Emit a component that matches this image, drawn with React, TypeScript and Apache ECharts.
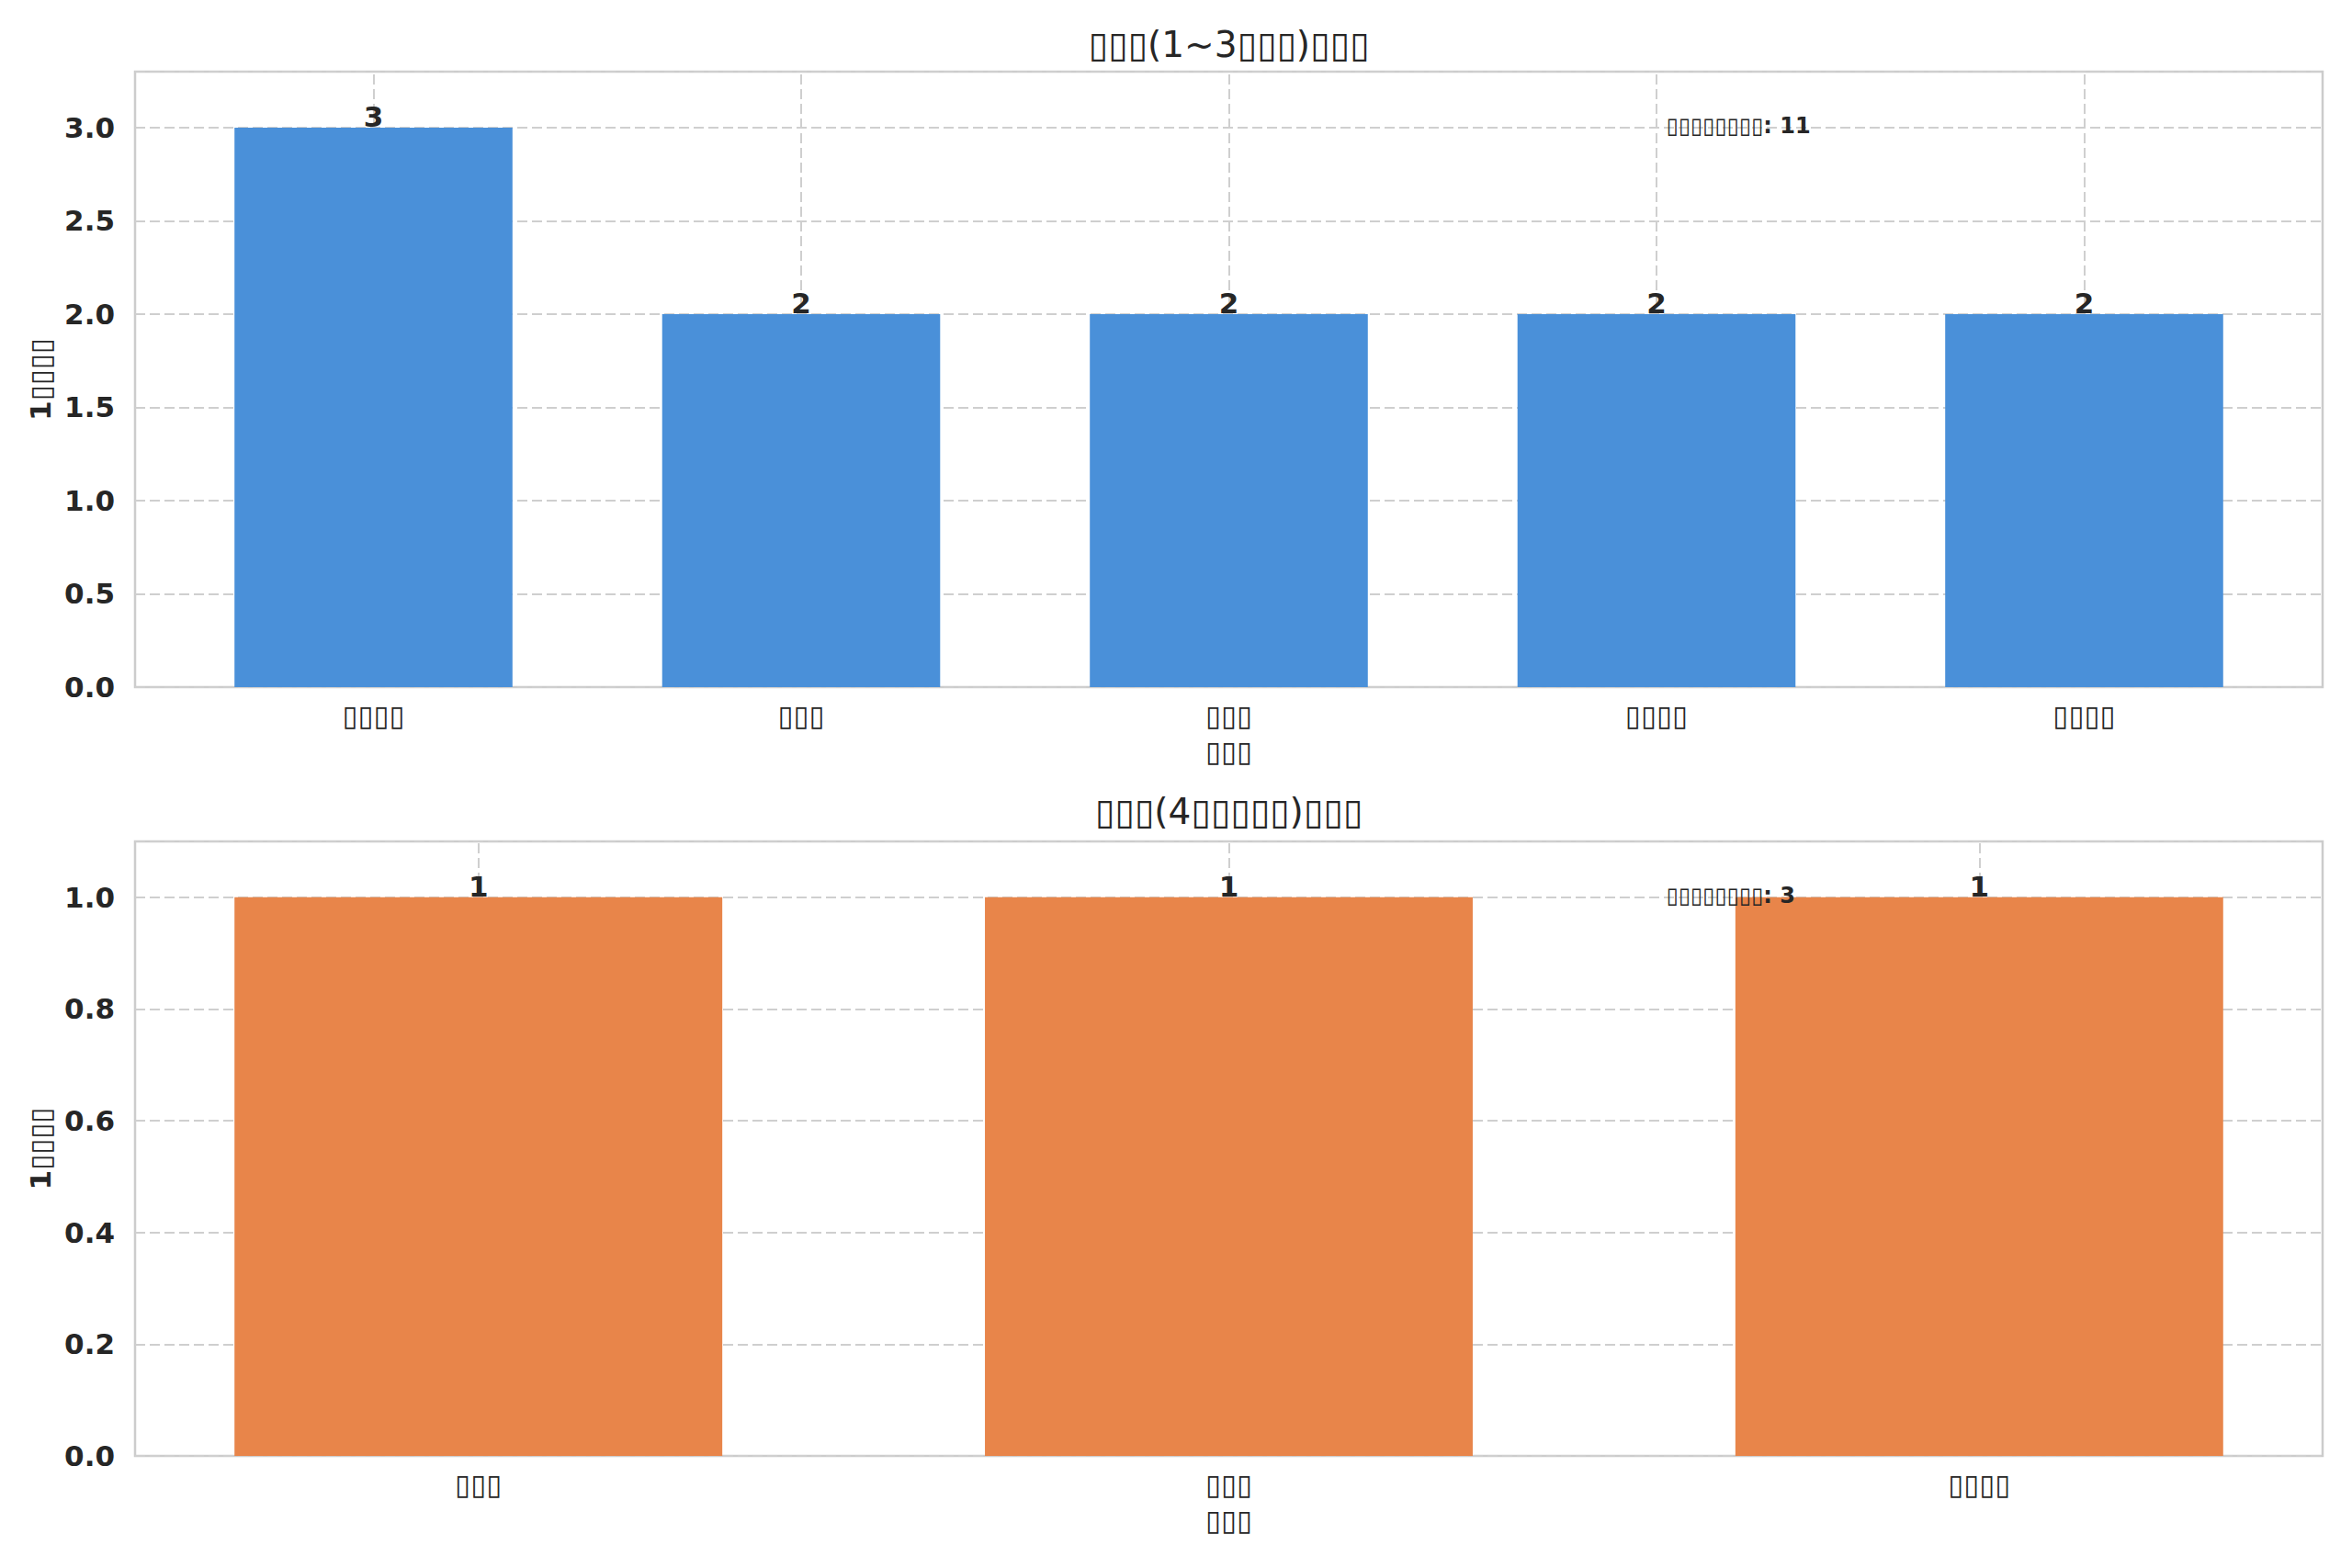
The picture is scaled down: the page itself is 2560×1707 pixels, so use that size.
import React, { useEffect, useRef } from 'react';
import * as echarts from 'echarts';

// The source text was lost (missing CJK glyphs): kept as the same box glyphs.
const topTitle = '▯▯▯(1~3▯▯▯)▯▯▯';
const bottomTitle = '▯▯▯(4▯▯▯▯▯)▯▯▯';
const yName = '1▯▯▯▯';
const xName = '▯▯▯';

const topCategories = ['▯▯▯▯', '▯▯▯', '▯▯▯', '▯▯▯▯', '▯▯▯▯'];
const topValues = [3, 2, 2, 2, 2];
const topNote = '▯▯▯▯▯▯▯▯: 11';

const bottomCategories = ['▯▯▯', '▯▯▯', '▯▯▯▯'];
const bottomValues = [1, 1, 1];
const bottomNote = '▯▯▯▯▯▯▯▯: 3';

const W = 2560;
const H = 1707;
const PLOT_LEFT = 147;
const PLOT_W = 2381;
const GRIDS = [
  { top: 78, height: 670 },
  { top: 916, height: 669 },
];
const BAR_W = 0.65;
const FONT = 'DejaVu Sans';
const INK = '#262626';
const GRID_LINE = '#cfcfcf';

// matplotlib-like x limits: half a bar plus 5% margin of the data span
const xPad = (n: number) => BAR_W / 2 + 0.05 * (n - 1 + BAR_W);

const App: React.FC = () => {
  const chartRef = useRef<HTMLDivElement>(null);

  useEffect(() => {
    if (!chartRef.current) return;
    document.body.style.margin = '0';
    const chart = echarts.init(chartRef.current, null, { renderer: 'svg' });

    const panels = [
      { cats: topCategories, vals: topValues, color: '#4A90D9', title: topTitle, note: topNote, step: 0.5, titleTop: 29 },
      { cats: bottomCategories, vals: bottomValues, color: '#E8854A', title: bottomTitle, note: bottomNote, step: 0.2, titleTop: 864 },
    ];

    const option: echarts.EChartsOption = {
      animation: false,
      backgroundColor: '#ffffff',
      textStyle: { fontFamily: FONT },
      title: panels.map((p) => ({
        text: p.title,
        left: PLOT_LEFT + PLOT_W / 2,
        top: p.titleTop,
        textAlign: 'center',
        padding: 0,
        textStyle: { fontSize: 39, fontWeight: 'normal', color: INK, fontFamily: FONT },
      })),
      grid: GRIDS.map((g) => ({
        left: PLOT_LEFT,
        top: g.top,
        width: PLOT_W,
        height: g.height,
        show: true,
        borderColor: '#cccccc',
        borderWidth: 2.5,
        backgroundColor: 'transparent',
      })),
      xAxis: panels.map((p, i) => ({
        type: 'value',
        gridIndex: i,
        min: -xPad(p.cats.length),
        max: p.cats.length - 1 + xPad(p.cats.length),
        name: xName,
        nameLocation: 'middle',
        nameGap: 54,
        nameTextStyle: { fontSize: 31, color: INK, fontFamily: FONT },
        axisLine: { show: false },
        axisTick: { show: false },
        splitLine: { show: false },
        axisLabel: {
          customValues: p.cats.map((_, k) => k),
          formatter: (v: number) => p.cats[Math.round(v)] ?? '',
          fontSize: 31,
          color: INK,
          margin: 15,
          fontFamily: FONT,
        },
      })),
      yAxis: panels.map((p, i) => ({
        type: 'value',
        gridIndex: i,
        min: 0,
        max: Math.max(...p.vals) * 1.1,
        interval: p.step,
        name: yName,
        nameLocation: 'middle',
        nameGap: 83,
        nameTextStyle: { fontSize: 31, fontWeight: 'bold', color: INK, fontFamily: FONT },
        axisLine: { show: false },
        axisTick: { show: false },
        axisLabel: {
          showMaxLabel: false,
          formatter: (v: number) => v.toFixed(1),
          fontSize: 31,
          fontWeight: 'bold',
          color: INK,
          margin: 22,
          fontFamily: FONT,
        },
        splitLine: { lineStyle: { color: GRID_LINE, width: 2, type: [11, 5] } },
      })),
      series: panels.flatMap((p, i) => [
        {
          type: 'line',
          xAxisIndex: i,
          yAxisIndex: i,
          data: [],
          z: 1,
          silent: true,
          markLine: {
            z: 1,
            silent: true,
            symbol: 'none',
            label: { show: false },
            lineStyle: { color: GRID_LINE, width: 2, type: [11, 5] },
            data: p.cats.map((_, k) => ({ xAxis: k })),
          },
        },
        {
          type: 'bar',
          xAxisIndex: i,
          yAxisIndex: i,
          z: 3,
          barWidth: `${BAR_W * 100}%`,
          data: p.vals.map((v, k) => [k, v]),
          itemStyle: { color: p.color },
          label: {
            show: true,
            position: 'top',
            distance: -4,
            formatter: (d: any) => String(d.value[1]),
            fontSize: 31,
            fontWeight: 'bold',
            color: INK,
            fontFamily: FONT,
          },
        },
      ]),
      graphic: panels.map((p, i) => ({
        type: 'text',
        z: 10,
        x: PLOT_LEFT + PLOT_W * 0.7,
        y: GRIDS[i].top + GRIDS[i].height * 0.088,
        style: {
          text: p.note,
          fontSize: 24,
          fontWeight: 'bold',
          fontFamily: FONT,
          fill: INK,
          verticalAlign: 'middle',
        },
      })),
    };

    chart.setOption(option);
    return () => chart.dispose();
  }, []);

  return <div ref={chartRef} style={{ width: W, height: H }} />;
};

export default App;
